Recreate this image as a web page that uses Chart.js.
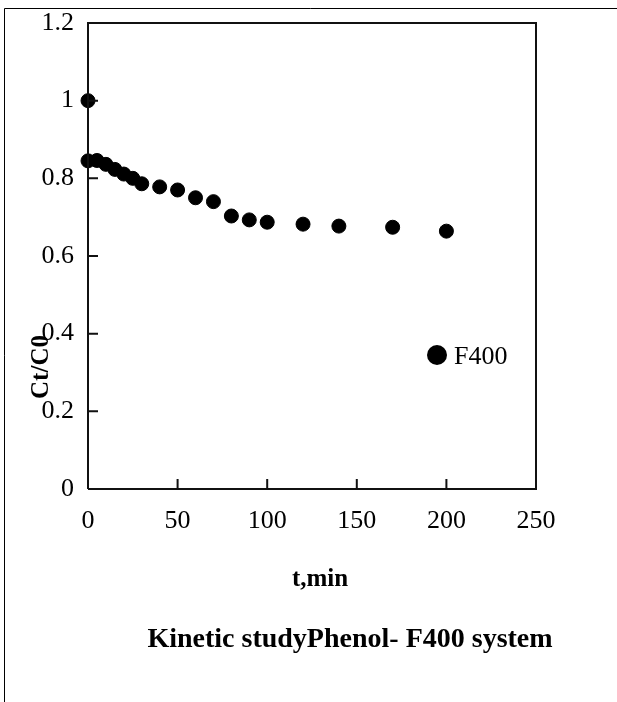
<!DOCTYPE html>
<html>
<head>
<meta charset="utf-8">
<script src="https://cdn.jsdelivr.net/npm/chart.js@4/dist/chart.umd.min.js"></script>
<style>
    html, body { margin: 0; padding: 0; background: #fff; }
    #wrap { width: 617px; height: 702px; }
</style>
</head>
<body>
<div id="wrap"><canvas id="kineticChart" width="617" height="702"></canvas></div>
<script>
// time (min) and Ct/C0
const times = [0, 0, 5, 10, 15, 20, 25, 30, 40, 50, 60, 70, 80, 90, 100, 120, 140, 170, 200];
const ratios = [1.0, 0.845, 0.846, 0.836, 0.823, 0.811, 0.800, 0.786, 0.778, 0.770, 0.750, 0.740, 0.703, 0.693, 0.687, 0.682, 0.677, 0.674, 0.664];
const xTicks = [0, 50, 100, 150, 200, 250];
const yTicks = [0, 0.2, 0.4, 0.6, 0.8, 1, 1.2];
const seriesName = "F400";
const xTitle = "t,min";
const yTitle = "Ct/C0";
const chartTitle = "Kinetic studyPhenol- F400 system";

const serif = "'Liberation Serif', 'Times New Roman', serif";

const extras = {
    id: "extras",
    beforeDraw(chart) {
        const ctx = chart.ctx;
        ctx.save();
        ctx.fillStyle = "#fff";
        ctx.fillRect(0, 0, chart.width, chart.height);
        // page frame
        ctx.strokeStyle = "#000";
        ctx.lineWidth = 1;
        ctx.beginPath();
        ctx.moveTo(4.5, chart.height);
        ctx.lineTo(4.5, 8.5);
        ctx.lineTo(chart.width, 8.5);
        ctx.stroke();
        ctx.restore();
    },
    afterDraw(chart) {
        const ctx = chart.ctx;
        const a = chart.chartArea;
        const xs = chart.scales.x, ys = chart.scales.y;
        ctx.save();
        ctx.strokeStyle = "#111";
        ctx.lineWidth = 2;
        ctx.beginPath();
        ctx.moveTo(a.left, a.bottom);
        ctx.lineTo(a.left, a.top);
        ctx.lineTo(a.right, a.top);
        ctx.lineTo(a.right, a.bottom);
        ctx.lineTo(a.left, a.bottom);
        ctx.stroke();
        // inward tick marks
        ctx.beginPath();
        xTicks.forEach(v => {
            const px = xs.getPixelForValue(v);
            ctx.moveTo(px, a.bottom);
            ctx.lineTo(px, a.bottom - 10);
        });
        yTicks.forEach(v => {
            const py = ys.getPixelForValue(v);
            ctx.moveTo(a.left, py);
            ctx.lineTo(a.left + 10, py);
        });
        ctx.stroke();

        ctx.fillStyle = "#000";
        ctx.textAlign = "center";
        ctx.textBaseline = "middle";
        ctx.font = "bold 25px " + serif;
        ctx.fillText(xTitle, 320, 580);
        ctx.font = "bold 28px " + serif;
        ctx.fillText(chartTitle, 350, 640);

        ctx.save();
        ctx.translate(42, 367);
        ctx.rotate(-Math.PI / 2);
        ctx.font = "bold 25px " + serif;
        ctx.fillText(yTitle, 0, 0);
        ctx.restore();

        // legend
        ctx.beginPath();
        ctx.arc(437, 355, 10, 0, Math.PI * 2);
        ctx.fill();
        ctx.textAlign = "left";
        ctx.font = "26px " + serif;
        ctx.fillText(seriesName, 454, 357);
        ctx.restore();
    }
};

new Chart(document.getElementById("kineticChart").getContext("2d"), {
    type: "scatter",
    data: {
        datasets: [{
            label: seriesName,
            data: times.map((t, i) => ({ x: t, y: ratios[i] })),
            backgroundColor: "#000",
            borderColor: "#000",
            pointRadius: 7,
            pointHoverRadius: 7,
            clip: false
        }]
    },
    options: {
        responsive: false,
        animation: false,
        layout: { padding: { left: 0, top: 23, right: 81, bottom: 0 } },
        plugins: {
            legend: { display: false },
            tooltip: { enabled: false }
        },
        scales: {
            x: {
                type: "linear",
                min: 0,
                max: 250,
                afterBuildTicks: s => { s.ticks = xTicks.map(v => ({ value: v })); },
                afterFit: s => { s.height = 213; },
                grid: { display: false },
                border: { display: false },
                ticks: {
                    color: "#000",
                    padding: 9,
                    maxRotation: 0,
                    font: { family: serif, size: 26 },
                    callback: v => String(v)
                }
            },
            y: {
                type: "linear",
                min: 0,
                max: 1.2,
                afterBuildTicks: s => { s.ticks = yTicks.map(v => ({ value: v })); },
                afterFit: s => { s.width = 88; },
                grid: { display: false },
                border: { display: false },
                ticks: {
                    color: "#000",
                    padding: 6,
                    font: { family: serif, size: 26 },
                    callback: v => String(Math.round(v * 10) / 10)
                }
            }
        }
    },
    plugins: [extras]
});
</script>
</body>
</html>
